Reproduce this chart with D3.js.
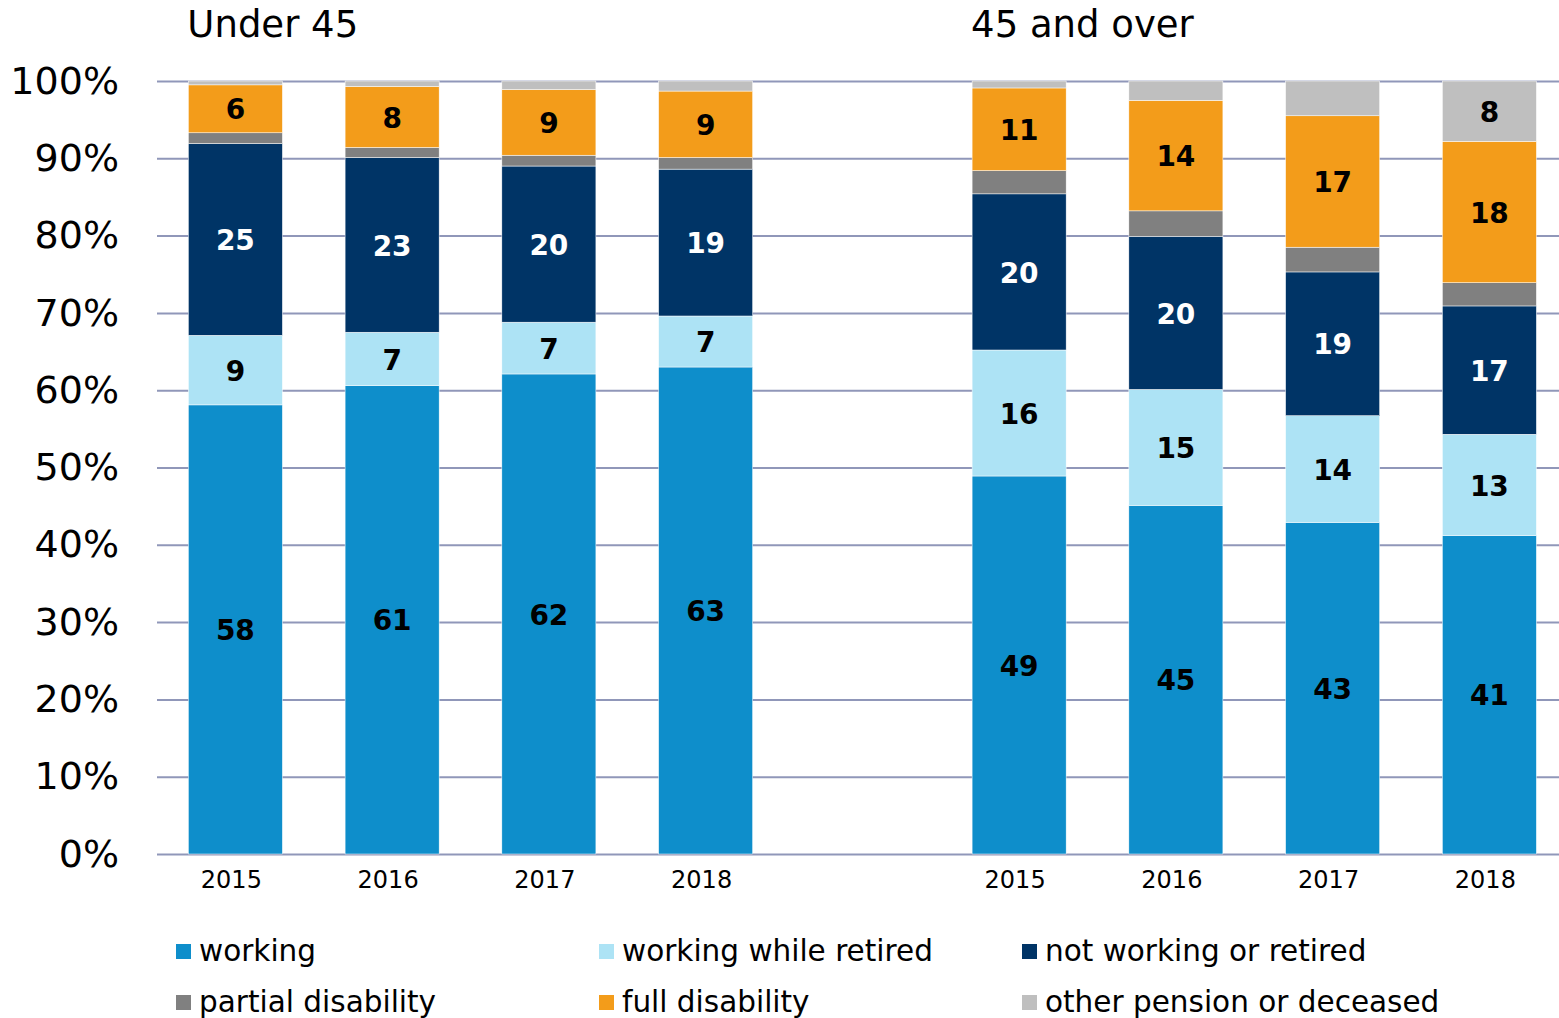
<!DOCTYPE html>
<html>
<head>
<meta charset="utf-8">
<script src="https://cdn.jsdelivr.net/npm/d3@7"></script>
<style>
  body { margin: 0; background: #fff; }
  text { font-family: "DejaVu Sans", Verdana, sans-serif; }
</style>
</head>
<body>
<svg width="1559" height="1018"></svg>
<script>
// categories
const groups = ['Under 45', '45 and over'];
const years = ['2015', '2016', '2017', '2018'];
const seriesNames = ['working', 'working while retired', 'not working or retired',
                     'partial disability', 'full disability', 'other pension or deceased'];
const yTicks = [0, 10, 20, 30, 40, 50, 60, 70, 80, 90, 100];

// values in %, 4 years Under 45 then 4 years 45 and over
const working        = [58.1, 60.6, 62.1, 63.0, 48.9, 45.1, 42.9, 41.2];
const workingRetired = [ 9.0,  6.9,  6.7,  6.6, 16.3, 15.0, 13.8, 13.1];
const notWorking     = [24.8, 22.6, 20.2, 19.0, 20.2, 19.8, 18.6, 16.6];
const partialDis     = [ 1.4,  1.3,  1.4,  1.5,  3.0,  3.3,  3.2,  3.0];
const fullDis        = [ 6.2,  7.9,  8.5,  8.6, 10.7, 14.3, 17.0, 18.3];
const otherPension   = [ 0.5,  0.7,  1.1,  1.3,  0.9,  2.5,  4.5,  7.8];

const COLORS = ['#0e8ecb', '#ade3f5', '#003466', '#808080', '#f39c1a', '#bfbfbf'];
const GRID_COLOR = '#9097b9';

const seriesValues = [working, workingRetired, notWorking, partialDis, fullDis, otherPension];

// one slot left empty between the two groups
var keys = [];
groups.forEach((g, gi) => {
    years.forEach(y => keys.push(g + '|' + y));
    if (gi === 0) keys.push('gap');
});

var rows = [];
groups.forEach((g, gi) => {
    years.forEach((y, yi) => {
        var row = { key: g + '|' + y, group: g, year: y };
        seriesNames.forEach((s, si) => { row[s] = seriesValues[si][gi * years.length + yi]; });
        rows.push(row);
    });
});

var svg = d3.select('svg');

var x = d3.scaleBand()
    .domain(keys)
    .range([157, 157 + 9 * 156.75])
    .paddingInner(0.4)
    .paddingOuter(0.2);

var y = d3.scaleLinear()
    .domain([0, 100])
    .range([854, 81]);

/* grid + y labels */
var yAxis = svg.append('g')
    .attr('transform', 'translate(157,0)')
    .call(d3.axisLeft(y)
        .tickValues(yTicks)
        .tickSize(-(1559 - 157))
        .tickPadding(38)
        .tickFormat(d => d + '%'));
yAxis.select('.domain').remove();
yAxis.selectAll('line').attr('stroke', GRID_COLOR).attr('stroke-width', 2);
yAxis.selectAll('text')
    .attr('font-size', 38)
    .attr('fill', '#000')
    .attr('font-family', '"DejaVu Sans", Verdana, sans-serif');

/* bars */
var stacked = d3.stack().keys(seriesNames)(rows);

var layers = svg.append('g').selectAll('g')
    .data(stacked)
    .join('g')
    .attr('fill', (d, i) => COLORS[i]);

layers.selectAll('rect')
    .data(d => d)
    .join('rect')
    .attr('x', d => x(d.data.key))
    .attr('width', x.bandwidth())
    .attr('y', d => y(d[1]))
    .attr('height', d => y(d[0]) - y(d[1]))
    .attr('stroke', '#fff')
    .attr('stroke-width', 0.5);

/* value labels */
stacked.forEach((layer, si) => {
    svg.append('g').selectAll('text')
        .data(layer.filter(d => d[1] - d[0] >= 5))
        .join('text')
        .attr('x', d => x(d.data.key) + x.bandwidth() / 2)
        .attr('y', d => y((d[0] + d[1]) / 2))
        .attr('dy', '0.38em')
        .attr('text-anchor', 'middle')
        .attr('font-size', 28)
        .attr('font-weight', 'bold')
        .attr('fill', si === 2 ? '#fff' : '#000')
        .text(d => Math.round(d[1] - d[0]));
});

/* year labels */
svg.append('g').selectAll('text')
    .data(rows)
    .join('text')
    .attr('x', d => x(d.key) + x.bandwidth() / 2 - 4)
    .attr('y', 888)
    .attr('text-anchor', 'middle')
    .attr('font-size', 24)
    .attr('fill', '#000')
    .text(d => d.year);

/* group titles */
svg.append('g').selectAll('text')
    .data(groups)
    .join('text')
    .attr('x', d => x(d + '|' + years[0]) - 1)
    .attr('y', 37)
    .attr('font-size', 37)
    .attr('fill', '#000')
    .text(d => d);

/* legend */
var legendX = [176, 599, 1022];
var legendY = [944, 995];
var legend = svg.append('g').selectAll('g')
    .data(seriesNames)
    .join('g')
    .attr('transform', (d, i) => 'translate(' + legendX[i % 3] + ',' + legendY[Math.floor(i / 3)] + ')');

legend.append('rect')
    .attr('width', 15)
    .attr('height', 15)
    .attr('fill', (d, i) => COLORS[i]);

legend.append('text')
    .attr('x', 23)
    .attr('y', 17)
    .attr('font-size', 29.5)
    .attr('fill', '#000')
    .text(d => d);
</script>
</body>
</html>
